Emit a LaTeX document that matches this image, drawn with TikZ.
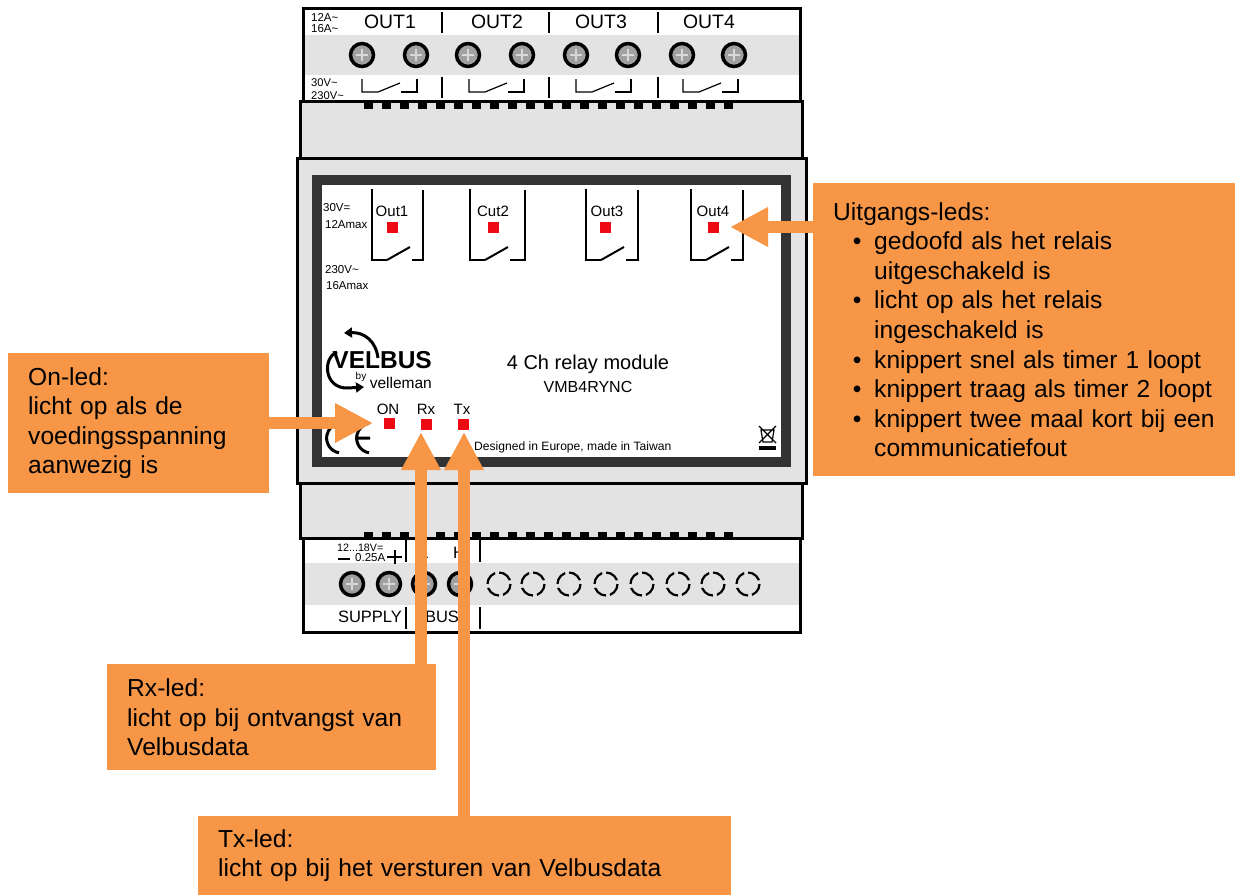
\documentclass[tikz,border=0pt]{standalone}
\usepackage{fontspec}
\setmainfont{Liberation Sans}
\usetikzlibrary{arrows.meta,positioning,calc}
\definecolor{ink}{HTML}{000000}
\definecolor{housing}{HTML}{E3E3E3}
\definecolor{frame}{HTML}{333333}
\definecolor{screwfill}{HTML}{A0A0A0}
\definecolor{screwcross}{HTML}{D8D8D8}
\definecolor{callout}{HTML}{F79646}
\definecolor{ledred}{HTML}{EE0A14}
\newcommand{\bulletline}[1]{\makebox[41pt][r]{\textbullet\hspace{12.6pt}}\mbox{#1}}
\newcommand{\contline}[1]{\hspace*{41pt}\mbox{#1}}
\tikzset{
  shell/.style={draw=ink, line width=3pt, fill=housing},
  terminal/.style={draw=ink, line width=3pt},
  band/.style={fill=housing},
  wire/.style={draw=ink, line width=1.2pt},
  lab/.style={font=\fontsize{#1}{#1}\selectfont, inner sep=0pt, text=ink},
  led/.style={fill=ledred, minimum size=11pt, inner sep=0pt},
  screw/.style={draw=ink, line width=3.5pt, fill=screwfill},
  cross/.style={draw=screwcross, line width=2.5pt},
  opening/.style={draw=ink, line width=2.2pt, dash pattern=on 14pt off 4pt},
  calloutbox/.style={fill=callout, anchor=north west, align=left, inner xsep=20pt, inner ysep=0pt, font=\fontsize{24.6}{29.6}\selectfont, text=black},
  callarrow/.style={-{Triangle[length=38pt,width=37pt]}, line width=12pt, draw=callout}
}
\begin{document}
\begin{tikzpicture}[x=1pt,y=-1pt]
\useasboundingbox (0,0) rectangle (1235,895);

% Top terminals
\fill[band] (303,35) rectangle (800,75);
\draw[terminal] (303,8) rectangle (800,101);
\foreach \i/\x in {1/390,2/497,3/601,4/709}
  \node[lab=19.4] (outlab\i) at (\x,22) {OUT\i};
\foreach \x in {442,549,658} {
  \draw[wire] (\x,12) -- (\x,33);
  \draw[wire] (\x,77) -- (\x,98);
}
\node[lab=11.5, anchor=west] (ratea) at (311,17) {12A\textasciitilde};
\node[lab=11.5, anchor=west] (rateb) at (311,29) {16A\textasciitilde};
\node[lab=11.2, anchor=west] (ratec) at (311,83) {30V\textasciitilde};
\node[lab=11.2, anchor=west] (rated) at (311,96) {230V\textasciitilde};
\foreach \x in {362,416,468,522,576,628,682,734} {
  \draw[screw] (\x,55) circle (11.5);
  \draw[cross] (\x-6,55) -- (\x+6,55) (\x,49) -- (\x,61);
}
\foreach \x in {362,469,576,683} {
  \draw[wire] (\x,79) -- (\x,92) -- (\x+16,92) -- (\x+38,83);
  \draw[wire] (\x+39,92) -- (\x+55,92) -- (\x+55,79);
}

% Housing
\draw[shell] (300,101) rectangle (802,158);
\draw[shell] (300,483) rectangle (802,538);
\foreach \i in {0,...,20} {
  \fill[ink] (363.5+18*\i,102) rectangle ++(9,7);
  \fill[ink] (363.5+18*\i,532) rectangle ++(9,6);
}
\draw[shell] (297,158) rectangle (806,483);
\draw[draw=frame, line width=10pt, fill=white] (317,180) rectangle (786,462);

% Front panel
\foreach \x/\r in {372/423,470/525,586/638,691/743} {
  \draw[wire] (\x,189) -- (\x,260) -- (\x+15,260);
  \draw[draw=ink, line width=2pt] (\x+15,260) -- (\x+38,247);
  \draw[wire] (\x+40,260) -- (\r,260) -- (\r,190);
}
\node[lab=15] (chana) at (392,211) {Out1};
\node[lab=15] (chanb) at (493,211) {Cut2};
\node[lab=15] (chanc) at (607,211) {Out3};
\node[lab=15] (chand) at (713,211) {Out4};
\node[led] (outled1) at (392,227) {};
\node[led] (outled2) at (493,227) {};
\node[led] (outled3) at (605,227) {};
\node[led] (outled4) at (713,227) {};
\node[lab=11.5, anchor=west] (volta) at (323,208) {30V=};
\node[lab=11.5, anchor=west] (ampa) at (325,225) {12Amax};
\node[lab=11.5, anchor=west] (voltb) at (325,270) {230V\textasciitilde};
\node[lab=11.5, anchor=west] (ampb) at (326,286) {16Amax};

% Logo
\draw[draw=ink, line width=3pt, -{Triangle[length=8pt,width=10pt]}] (378,358) .. controls (376,341) and (364,332) .. (344,333);
\draw[draw=ink, line width=3pt, -{Triangle[length=8pt,width=10pt]}] (337,352) .. controls (322,358) and (324,389) .. (348,388) -- (364,387);
\node[anchor=east, inner sep=0pt, font=\fontsize{24.5}{24.5}\selectfont\bfseries, text=ink] (velbus) at (432,360) {VELBUS};
\node[lab=10] (byword) at (361,377) {by};
\node[lab=15.5, anchor=east] (velleman) at (432,383) {velleman};

\node[lab=20] (title) at (588,364) {4 Ch relay module};
\node[lab=16] (model) at (588,387) {VMB4RYNC};
\node[lab=15] (onlab) at (388,409) {ON};
\node[lab=15] (rxlab) at (426,409) {Rx};
\node[lab=15] (txlab) at (462,409) {Tx};
\node[led] (onled) at (389,423) {};
\node[led] (rxled) at (426,424) {};
\node[led] (txled) at (463,424) {};
\node[lab=12.1, anchor=west] (origin) at (474,447) {Designed in Europe, made in Taiwan};

% CE mark and bin
\draw[draw=ink, line width=3pt] (339,452.8) arc (100:260:15);
\draw[draw=ink, line width=3pt] (369,452.8) arc (100:260:15) (357,438) -- (370,438);
\draw[wire] (761,430) -- (774,430) -- (772,442) -- (763,442) -- cycle (759,426) -- (776,443) (776,426) -- (759,443);
\fill[ink] (759,446) rectangle (776,450);

% Bottom terminals
\fill[white] (303,538) rectangle (800,632);
\fill[band] (303,563) rectangle (800,605);
\draw[terminal] (303,538) rectangle (800,632);
\node[lab=10.7, anchor=west] (supplya) at (337,548) {12...18V=};
\node[lab=11.5, anchor=west] (supplyb) at (355,558) {0.25A};
\draw[draw=ink, line width=2pt] (338,559) -- (350,559);
\draw[draw=ink, line width=2pt] (387,557) -- (402,557) (394.5,550) -- (394.5,564);
\node[lab=16.5] (lowlab) at (424,553) {L};
\node[lab=16.5] (highlab) at (459,553) {H};
\node[lab=16.5] (supply) at (370,617) {SUPPLY};
\node[lab=16.5] (buslab) at (442,617) {BUS};
\foreach \x in {406,480} {
  \draw[wire] (\x,540) -- (\x,562);
  \draw[wire] (\x,607) -- (\x,629);
}
\foreach \x in {352,389,424,460} {
  \draw[screw] (\x,584) circle (11.5);
  \draw[cross] (\x-6,584) -- (\x+6,584) (\x,578) -- (\x,590);
}
\foreach \x in {499,533,569,606,642,678,713,748}
  \draw[opening] (\x,584) circle (11.5);

% Callouts
\node[calloutbox, minimum width=261pt, minimum height=140pt, text width=221pt] (onbox) at (8,353) {On-led:\\licht op als de\\voedingsspanning\\aanwezig is};
\node[calloutbox, minimum width=422pt, minimum height=293pt, text width=382pt] (outbox) at (813,183) {Uitgangs-leds:\\
\bulletline{gedoofd als het relais}\\
\contline{uitgeschakeld is}\\
\bulletline{licht op als het relais}\\
\contline{ingeschakeld is}\\
\bulletline{knippert snel als timer 1 loopt}\\
\bulletline{knippert traag als timer 2 loopt}\\
\bulletline{knippert twee maal kort bij een}\\
\contline{communicatiefout}};
\node[calloutbox, minimum width=329pt, minimum height=106pt, text width=289pt] (rxbox) at (107,664) {Rx-led:\\licht op bij ontvangst van\\Velbusdata};
\node[calloutbox, minimum width=533pt, minimum height=79pt, text width=493pt] (txbox) at (198,816) {Tx-led:\\licht op bij het versturen van Velbusdata};

\coordinate (ontip) at ([xshift=-16pt]onled.center);
\coordinate (rxtip) at ([shift={(-5,8)}]rxled.center);
\coordinate (txtip) at ([shift={(1,8)}]txled.center);
\coordinate (outtip) at ([xshift=17pt]outled4.center);
\draw[callarrow] (onbox.east |- ontip) -- (ontip);
\draw[callarrow] (rxbox.north -| rxtip) -- (rxtip);
\draw[callarrow] (txbox.north -| txtip) -- (txtip);
\draw[callarrow] (outbox.west |- outtip) -- (outtip);
\end{tikzpicture}
\end{document}
